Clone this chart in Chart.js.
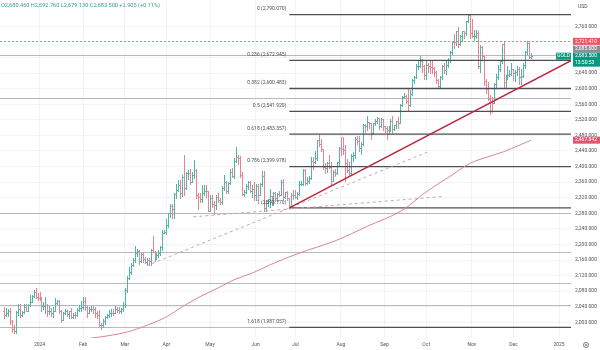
<!DOCTYPE html>
<html>
<head>
<meta charset="utf-8">
<script src="https://cdn.jsdelivr.net/npm/chart.js@4.4.1/dist/chart.umd.min.js"></script>
<style>
  html, body { margin: 0; padding: 0; background: #fff; }
  #goldChart { display: block; }
</style>
</head>
<body>
<canvas id="goldChart" width="600" height="350"></canvas>
<script>
// daily GOLD bars, index 0 = first session of 2024 (Dec 2023 bars are negative)
const firstIndex = -18;

const opens = [
  2030,2019,2025,2028,2004,1982,1979,2027,2035,2019,2027,2040,2030,2045,2053,2067,2077,2065,
  2062,2059,2042,2043,2045,2028,2030,2024,2029,2049,2055,2028,2006,2023,2029,2021,2029,2013,2020,2018,2032,2037,
  2039,2054,2039,2025,2035,2035,2034,2024,2020,1993,1992,2004,2013,2018,2025,2025,2024,2035,2031,2029,2034,
  2044,2083,2115,2128,2148,2160,2179,2182,2158,2175,2162,2155,2160,2157,2186,2181,2165,2172,2178,2194,2230,
  2233,2251,2280,2300,2291,2330,2339,2352,2333,2372,2344,2383,2383,2361,2379,2392,2327,2322,2316,2332,2337,2336,
  2286,2320,2303,2301,2323,2314,2309,2346,2360,2336,2358,2385,2376,2415,2425,2421,2378,2329,2334,2351,2361,2338,2343,
  2327,2350,2327,2355,2375,2293,2311,2316,2324,2303,2333,2319,2329,2328,2360,2321,2334,2319,2298,2327,
  2326,2323,2330,2356,2356,2392,2359,2364,2371,2415,2411,2422,2469,2459,2445,2400,2396,2409,2398,2364,2387,2384,2411,
  2448,2446,2443,2410,2390,2383,2427,2431,2472,2465,2447,2457,2507,2504,2514,2512,2485,2512,2517,2524,2504,2521,
  2503,2500,2494,2495,2516,2497,2506,2516,2512,2558,2578,2582,2569,2559,2586,2622,2629,2657,2657,2672,2658,
  2634,2662,2657,2656,2653,2644,2622,2608,2631,2657,2649,2662,2674,2693,2721,2720,2748,2715,2736,2747,2743,2774,2788,
  2744,2736,2736,2743,2659,2706,2685,2619,2598,2573,2565,2563,2612,2631,2651,2670,2715,2617,2633,2636,2638,
  2650,2640,2643,2650,2631,2633,2660,2694,2718,2680.46
];
const highs = [
  2039,2036,2034,2036,2006,1993,2028,2048,2047,2029,2047,2047,2048,2071,2070,2084,2088,2075,
  2079,2065,2051,2064,2047,2041,2038,2040,2062,2058,2057,2031,2027,2035,2032,2030,2038,2024,2027,2037,2044,2055,
  2065,2066,2041,2040,2043,2043,2039,2029,2032,1998,2009,2016,2022,2031,2033,2035,2041,2039,2040,2038,2052,
  2088,2120,2141,2153,2165,2195,2189,2185,2178,2178,2168,2165,2164,2188,2223,2183,2177,2185,2196,2236,2236,
  2266,2281,2305,2305,2331,2354,2365,2365,2378,2431,2385,2392,2395,2385,2417,2395,2333,2332,2352,2352,2353,2336,
  2326,2326,2311,2326,2332,2320,2351,2378,2364,2361,2395,2397,2422,2450,2431,2426,2385,2339,2355,2364,2363,2352,2360,
  2354,2354,2357,2388,2388,2313,2318,2342,2325,2335,2335,2333,2336,2365,2369,2335,2336,2320,2331,2340,
  2339,2334,2364,2363,2393,2393,2372,2375,2425,2424,2440,2469,2483,2470,2446,2409,2412,2430,2412,2390,2394,2412,2451,
  2477,2477,2455,2420,2411,2432,2437,2475,2478,2479,2463,2509,2510,2531,2514,2513,2512,2521,2528,2525,2524,2523,
  2504,2504,2504,2523,2529,2507,2518,2528,2560,2581,2590,2584,2600,2596,2625,2632,2664,2670,2685,2675,2660,
  2673,2665,2671,2670,2656,2645,2625,2633,2662,2666,2672,2678,2696,2722,2740,2749,2758,2739,2749,2749,2775,2789,2790.07,
  2778,2750,2750,2749,2712,2710,2685,2626,2618,2583,2578,2615,2639,2660,2674,2716,2721,2636,2657,2648,2665,
  2651,2649,2658,2655,2650,2667,2697,2721.41,2721,2692.76
];
const lows = [
  2010,2016,2017,1995,1976,1973,1973,2020,2015,2017,2024,2029,2028,2043,2052,2064,2062,2058,
  2057,2030,2033,2024,2016,2022,2016,2014,2028,2047,2023,2002,2005,2021,2016,2010,2012,2010,2012,2016,2029,2030,
  2035,2031,2015,2023,2028,2024,2015,2012,1990,1984,1988,1996,2011,2014,2017,2019,2023,2026,2025,2024,2030,
  2039,2077,2111,2125,2144,2155,2170,2150,2156,2154,2152,2146,2146,2146,2180,2157,2163,2168,2173,2187,2229,
  2228,2244,2271,2267,2268,2319,2337,2320,2325,2326,2342,2369,2354,2361,2371,2320,2291,2309,2308,2327,2323,2285,
  2285,2295,2277,2292,2308,2304,2304,2341,2332,2332,2354,2373,2370,2412,2406,2374,2326,2325,2333,2343,2334,2323,2315,
  2314,2316,2326,2351,2287,2286,2298,2297,2301,2302,2311,2311,2325,2327,2316,2319,2315,2293.77,2297,2318,
  2319,2318,2327,2352,2353,2353,2356,2359,2368,2394,2410,2418,2452,2440,2393,2384,2385,2396,2353,2362,2376,2381,2405,
  2430,2432,2364,2386,2378,2381,2415,2423,2459,2440,2432,2456,2489,2495,2500,2471,2484,2506,2512,2497,2501,2494,
  2488,2471,2487,2492,2485,2494,2500,2500,2511,2556,2575,2562,2546,2555,2585,2614,2628,2650,2655,2643,2624,
  2624,2642,2640,2640,2633,2614,2605,2603,2626,2640,2639,2656,2668,2690,2704,2712,2708,2713,2723,2731,2737,2770,2729,
  2732,2725,2730,2652,2643,2676,2610,2589,2572,2536,2541,2562,2603,2625,2645,2665,2605,2602,2625,2632,2636,
  2622,2621,2635,2613,2613,2631,2653,2688,2678,2679.13
];
const closes = [
  2019,2025,2028,2004,1982,1979,2027,2035,2019,2027,2040,2030,2045,2053,2067,2077,2065,2062,
  2059,2042,2043,2045,2028,2030,2024,2029,2049,2055,2028,2006,2023,2029,2021,2029,2013,2020,2018,2032,2037,2039,
  2054,2039,2025,2035,2035,2034,2024,2020,1993,1992,2004,2013,2018,2025,2025,2024,2035,2031,2029,2034,2044,
  2083,2115,2128,2148,2160,2179,2182,2158,2175,2162,2155,2160,2157,2186,2181,2165,2172,2178,2194,2230,2233,
  2251,2280,2300,2291,2330,2339,2352,2333,2372,2344,2383,2383,2361,2379,2392,2327,2322,2316,2332,2337,2336,2286,
  2320,2303,2301,2323,2314,2309,2346,2360,2336,2358,2385,2376,2415,2425,2421,2378,2329,2334,2351,2361,2338,2343,2327,
  2350,2327,2355,2375,2293,2311,2316,2324,2303,2333,2319,2329,2328,2360,2321,2334,2319,2298,2327,2326,
  2323,2330,2356,2356,2392,2359,2364,2371,2415,2411,2422,2469,2459,2445,2400,2396,2409,2398,2364,2387,2384,2411,2448,
  2446,2443,2410,2390,2383,2427,2431,2472,2465,2447,2457,2507,2504,2514,2512,2485,2512,2517,2524,2504,2521,2503,
  2500,2494,2495,2516,2497,2506,2516,2512,2558,2578,2582,2569,2559,2586,2622,2629,2657,2657,2672,2658,2634,
  2662,2657,2656,2653,2644,2622,2608,2631,2657,2649,2662,2674,2693,2721,2720,2748,2715,2736,2747,2743,2774,2788,2744,
  2736,2736,2743,2659,2706,2685,2619,2598,2573,2565,2563,2612,2631,2651,2670,2715,2617,2633,2636,2638,2650,
  2640,2643,2650,2631,2633,2660,2694,2718,2680.595,2683.5
];

// time axis: first session of each month
const monthTicks = [0, 22, 43, 64, 86, 109, 129, 152, 174, 195, 218, 239, 262];
const monthNames = ['2024', 'Feb', 'Mar', 'Apr', 'May', 'Jun', 'Jul', 'Aug', 'Sep', 'Oct', 'Nov', 'Dec', '2025'];
const priceTicks = [2000, 2040, 2080, 2120, 2160, 2200, 2240, 2280, 2320, 2360, 2400, 2440, 2480, 2520, 2560, 2600, 2640, 2680, 2720, 2760];

// 200-day moving average
const maIdx = [10, 30, 44, 55, 64, 72, 81, 90, 98, 108, 116, 130, 150, 165, 183, 195, 207, 217, 226, 234, 242, 248];
const maValues = [1950, 1962, 1975, 1994, 2014, 2040, 2066, 2088, 2109, 2128, 2147, 2176, 2211, 2246, 2288, 2335, 2375, 2408, 2425, 2438, 2455, 2467.842];

// fibonacci retracement, Jun low to Oct high
const fibRatios = [0, 0.236, 0.382, 0.5, 0.618, 0.786, 1, 1.618];
const fibPrices = [2790.070, 2672.945, 2600.483, 2541.920, 2483.357, 2399.978, 2293.770, 1987.057];
const fibStartIdx = 126;

// horizontal levels
const levelPrices = [2685.6, 2575.3, 2282.0, 2181.4, 2101.8, 2045.3, 1988.8];
const highLine = 2721.41;

// trend lines
const trendIdx = [126, 268];
const trendPrices = [2293.77, 2672];
const dashAIdx = [54, 196];
const dashAPrices = [2145, 2438];
const dashBIdx = [77.6, 203];
const dashBPrices = [2271, 2323];

const UP = '#4fb5a7', DOWN = '#e6848f';
const TEAL = '#089981';
const fmt = v => v.toLocaleString('en-US', { minimumFractionDigits: 3, maximumFractionDigits: 3 });
const FONT = '5px Roboto, "Liberation Sans", sans-serif';

const pts = (xs, ys) => xs.map((v, i) => ({ x: v, y: ys[i] }));

const drawings = {
  id: 'drawings',
  beforeDatasetsDraw(chart) {
    const { ctx, chartArea: a, scales: { x, y } } = chart;
    ctx.save();
    ctx.beginPath();
    ctx.rect(a.left, a.top, a.right - a.left, a.bottom - a.top);
    ctx.clip();

    // plain horizontal levels
    ctx.strokeStyle = '#b7b9c0';
    ctx.lineWidth = 1;
    levelPrices.forEach(p => {
      const py = Math.round(y.getPixelForValue(p)) + 0.5;
      ctx.beginPath(); ctx.moveTo(a.left, py); ctx.lineTo(a.right, py); ctx.stroke();
    });

    // high price line
    ctx.strokeStyle = '#f07b88';
    ctx.setLineDash([2, 2]);
    const hy = Math.round(y.getPixelForValue(highLine)) + 0.5;
    ctx.beginPath(); ctx.moveTo(a.left, hy); ctx.lineTo(a.right, hy); ctx.stroke();
    ctx.setLineDash([]);

    // OHLC bars
    closes.forEach((c, i) => {
      const px = Math.round(x.getPixelForValue(firstIndex + i)) + 0.5;
      const yo = Math.round(y.getPixelForValue(opens[i])) + 0.5;
      const yc = Math.round(y.getPixelForValue(c)) + 0.5;
      ctx.strokeStyle = c >= opens[i] ? UP : DOWN;
      ctx.beginPath();
      ctx.moveTo(px, Math.round(y.getPixelForValue(highs[i])));
      ctx.lineTo(px, Math.round(y.getPixelForValue(lows[i])) + 1);
      ctx.moveTo(px - 1.5, yo); ctx.lineTo(px, yo);
      ctx.moveTo(px, yc); ctx.lineTo(px + 1.5, yc);
      ctx.stroke();
    });

    // fibonacci levels
    ctx.strokeStyle = '#4d4f55';
    ctx.lineWidth = 1.3;
    const fx = x.getPixelForValue(fibStartIdx);
    fibPrices.forEach(p => {
      const py = y.getPixelForValue(p);
      ctx.beginPath(); ctx.moveTo(fx, py); ctx.lineTo(a.right, py); ctx.stroke();
    });
    ctx.restore();
  },
  afterDraw(chart) {
    const { ctx, chartArea: a, scales: { x, y } } = chart;
    ctx.save();
    ctx.font = FONT;
    ctx.textBaseline = 'middle';

    // fib labels
    ctx.fillStyle = '#4d4f55';
    ctx.textAlign = 'right';
    const fx = x.getPixelForValue(fibStartIdx);
    fibRatios.forEach((r, i) => {
      ctx.fillText(`${r} (${fmt(fibPrices[i])})`, fx - 3, y.getPixelForValue(fibPrices[i]) - 5.5);
    });

    // header
    const n = closes.length - 1;
    const chg = closes[n] - closes[n - 1];
    ctx.textAlign = 'left';
    ctx.fillStyle = '#3a9f93';
    ctx.font = '5.6px Roboto, "Liberation Sans", sans-serif';
    ctx.fillText(`O${fmt(opens[n])} H${fmt(highs[n])} L${fmt(lows[n])} C${fmt(closes[n])} ${chg >= 0 ? '+' : ''}${fmt(chg)} (${chg >= 0 ? '+' : ''}${(chg / closes[n - 1] * 100).toFixed(2)}%)`, 1, 6);
    ctx.font = FONT;

    ctx.fillStyle = '#434651';
    ctx.fillText('USD', 578, 7);

    // price tags on the axis
    const tagX = a.right + 2, tagW = 600 - tagX, h = 7;
    const tag = (top, txt, bg, rows) => {
      ctx.fillStyle = bg;
      ctx.fillRect(tagX, top, tagW, h * (rows ? rows.length + 1 : 1));
      ctx.fillStyle = '#fff';
      ctx.fillText(txt, tagX + 2, top + h / 2);
      (rows || []).forEach((t, k) => ctx.fillText(t, tagX + 2, top + h * (k + 1.5)));
    };
    const greenTop = y.getPixelForValue(closes[n]) - h / 2;
    tag(y.getPixelForValue(highLine) - h / 2, fmt(highLine), '#ef5466');
    tag(Math.min(y.getPixelForValue(levelPrices[0]) - h / 2, greenTop - h), fmt(levelPrices[0]), '#8b8e97');
    tag(greenTop, fmt(closes[n]), TEAL, ['13:50:53']);
    tag(y.getPixelForValue(maValues[maValues.length - 1]) - h / 2, fmt(maValues[maValues.length - 1]), '#e0566c');

    ctx.fillStyle = TEAL;
    ctx.fillRect(a.right - 15, greenTop, 15, h);
    ctx.fillStyle = '#fff';
    ctx.textAlign = 'center';
    ctx.fillText('GOLD', a.right - 7.5, greenTop + h / 2);

    // settings gear
    ctx.strokeStyle = '#6a6d78';
    ctx.lineWidth = 0.8;
    ctx.beginPath(); ctx.arc(586, 345, 2.6, 0, Math.PI * 2); ctx.stroke();
    ctx.beginPath(); ctx.arc(586, 345, 0.9, 0, Math.PI * 2); ctx.stroke();
    ctx.restore();
  }
};

const thinLine = (data, color, width, dash) => ({
  data, borderColor: color, borderWidth: width, borderDash: dash || [],
  pointRadius: 0, fill: false, tension: 0
});

// axes take a fixed strip, no extra label padding around the plot
const noPad = s => { s.paddingTop = 0; s.paddingBottom = 0; s.paddingLeft = 0; s.paddingRight = 0; };

new Chart(document.getElementById('goldChart'), {
  type: 'line',
  data: {
    datasets: [
      Object.assign(thinLine(pts(maIdx, maValues), '#d9868f', 1), { tension: 0.4, cubicInterpolationMode: 'monotone' }),
      thinLine(pts(trendIdx, trendPrices), '#b8283b', 1.5),
      thinLine(pts(dashAIdx, dashAPrices), '#cfa3aa', 1, [3, 3]),
      thinLine(pts(dashBIdx, dashBPrices), '#cfa3aa', 1, [3, 3])
    ]
  },
  options: {
    responsive: false,
    animation: false,
    devicePixelRatio: 1,
    layout: { padding: 0 },
    plugins: { legend: { display: false }, tooltip: { enabled: false } },
    scales: {
      x: {
        type: 'linear',
        min: -19.92,
        max: 268.03,
        afterBuildTicks: s => { s.ticks = monthTicks.map(v => ({ value: v })); },
        afterFit: s => { s.height = 12; noPad(s); },
        border: { display: false },
        grid: { color: 'rgba(42,46,57,0.05)', drawTicks: false },
        ticks: {
          autoSkip: false, maxRotation: 0, padding: 4, color: '#50535e',
          font: { family: 'Roboto', size: 5 },
          callback: v => monthNames[monthTicks.indexOf(v)]
        }
      },
      y: {
        position: 'right',
        min: 1959.8,
        max: 2827.74,
        afterBuildTicks: s => { s.ticks = priceTicks.map(v => ({ value: v })); },
        afterFit: s => { s.width = 29; noPad(s); },
        border: { display: false },
        grid: { color: 'rgba(42,46,57,0.05)', drawTicks: false },
        ticks: {
          padding: 4, color: '#50535e',
          font: { family: 'Roboto', size: 5 },
          callback: v => fmt(v)
        }
      }
    }
  },
  plugins: [drawings]
});
</script>
</body>
</html>
